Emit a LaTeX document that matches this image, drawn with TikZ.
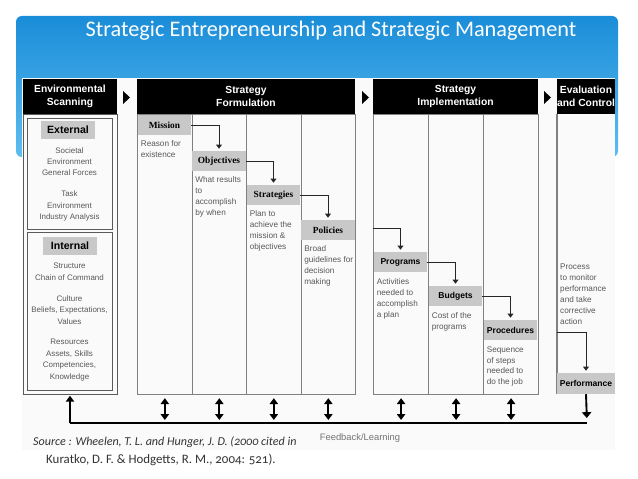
\documentclass[tikz,border=0pt]{standalone}
\usepackage{fontspec}
\setmainfont{Liberation Sans}
\newfontfamily\slidefont{Carlito}
\newfontfamily\srcfont[Numbers=OldStyle]{Carlito}
\newfontfamily\labserif{Liberation Serif}
\usetikzlibrary{arrows.meta}

\definecolor{slidetop}{HTML}{1A8DD8}
\definecolor{slidebot}{HTML}{5DBDF0}
\definecolor{labgray}{HTML}{C8C8C8}
\definecolor{colgray}{HTML}{808080}
\definecolor{txtgray}{HTML}{585858}

\tikzset{
  head/.style={fill=black, text=white, inner sep=0, align=center,
    font=\bfseries\fontsize{8.8}{11}\selectfont},
  col/.style={draw=colgray, line width=1pt, anchor=north west, inner sep=0,
    minimum width=1.635cm, minimum height=8.4cm},
  lab/.style={fill=labgray, inner sep=0, minimum width=1.6cm, minimum height=0.6cm,
    font=\bfseries\fontsize{7.3}{9}\selectfont},
  labs/.style={lab, font=\labserif\bfseries\fontsize{8}{9}\selectfont},
  txt/.style={anchor=north west, inner sep=0, align=left, text=txtgray,
    font=\fontsize{7}{9.3}\selectfont},
  envtxt/.style={anchor=north, inner sep=0, align=center, text=txtgray,
    font=\fontsize{6.8}{9.8}\selectfont},
  envbox/.style={draw=colgray!70!black, line width=0.7pt, inner sep=0},
  link/.style={draw=black!85, line width=0.8pt, -{Triangle[width=5pt,length=3.5pt]},
    shorten >=0.06cm},
  fb/.style={draw=black, line width=1.6pt},
  dblarr/.style={fb, {Triangle[width=7pt,length=5pt]}-{Triangle[width=7pt,length=5pt]},
    shorten <=0.09cm, shorten >=0.09cm}
}

\begin{document}
\begin{tikzpicture}[x=0.03cm, y=-0.03cm]

\path [use as bounding box] (0,0) rectangle (638,479);

% SLIDE
\shade [top color=slidetop, bottom color=slidebot, rounded corners=5pt] (16,16) rectangle (618,157);
\node [text=white, font=\slidefont\fontsize{19}{21}\selectfont] (title) at (331,31)
  {Strategic Entrepreneurship and Strategic Management};
\fill [white!98!black] (22,78) rectangle (615,450);

% HEADERS
\node [head, minimum width=2.82cm, minimum height=1.05cm] (envh) at (70,96.5) {Environmental\\Scanning};
\node [head, minimum width=6.54cm, minimum height=1.05cm] (formh) at (246,96.5) {Strategy\\Formulation};
\node [head, minimum width=4.95cm, minimum height=1.05cm] (implh) at (455.5,96.5) {Strategy\\Implementation};
\node [head, minimum width=1.74cm, minimum height=1.05cm] (evalh) at (586,96.5) {Evaluation\\and Control};
\foreach \x in {123,362,544}
  \fill (\x,91) -- +(7,6.5) -- +(0,13) -- cycle;

% ENVIRONMENTAL SCANNING
\node [envbox, minimum width=2.82cm, minimum height=8.4cm] (envbox) at (70,254) {};
\node [envbox, minimum width=2.55cm, minimum height=3.33cm] (extbox) at (69.5,173.5) {};
\node [envbox, minimum width=2.55cm, minimum height=4.74cm] (intbox) at (69.5,311) {};
\node [lab, minimum width=1.59cm, minimum height=0.51cm, font=\bfseries\fontsize{9}{10}\selectfont] (external) at (68,130) {External};
\node [lab, minimum width=1.62cm, minimum height=0.54cm, font=\bfseries\fontsize{9}{10}\selectfont] (internal) at (70,246) {Internal};
\node [envtxt] (exttxt) at (69.5,147) {Societal\\Environment\\General Forces\\[8pt]Task\\Environment\\Industry Analysis};
\node [envtxt] (inttxt) at (69.5,263) {Structure\\Chain of Command\\[8pt]Culture\\Beliefs, Expectations,\\Values\\[8pt]Resources\\Assets, Skills\\Competencies,\\Knowledge};

% FORMULATION
\node [col] (f1) at (137,114) {};
\node [col] (f2) at (191.5,114) {};
\node [col] (f3) at (246,114) {};
\node [col] (f4) at (300.5,114) {};
\node [labs] (mission) at (164.5,125) {Mission};
\node [labs] (objectives) at (219,161) {Objectives};
\node [labs] (strategies) at (273.5,195) {Strategies};
\node [labs] (policies) at (328,230) {Policies};
\node [txt] (missiontxt) at ([shift={(3,5)}]mission.south west) {Reason for\\existence};
\node [txt] (objtxt) at ([shift={(3,5)}]objectives.south west) {What results\\to\\accomplish\\by when};
\node [txt] (strattxt) at ([shift={(3,5)}]strategies.south west) {Plan to\\achieve the\\mission \&\\objectives};
\node [txt] (poltxt) at ([shift={(3,5)}]policies.south west) {Broad\\guidelines for\\decision\\making};
\draw [link] (mission.east) -| (objectives.north);
\draw [link] (objectives.east) -| (strategies.north);
\draw [link] (strategies.east) -| (policies.north);

% IMPLEMENTATION
\node [col, minimum width=1.65cm] (i1) at (373,114) {};
\node [col, minimum width=1.65cm] (i2) at (428,114) {};
\node [col, minimum width=1.65cm] (i3) at (483,114) {};
\node [lab] (programs) at (400.5,262) {Programs};
\node [lab] (budgets) at (455.5,296) {Budgets};
\node [lab] (procedures) at (510.5,330) {Procedures};
\node [txt] (progtxt) at ([shift={(3,6)}]programs.south west) {Activities\\needed to\\accomplish\\a plan};
\node [txt] (budtxt) at ([shift={(3,6)}]budgets.south west) {Cost of the\\programs};
\node [txt] (proctxt) at ([shift={(3,6)}]procedures.south west) {Sequence\\of steps\\needed to\\do the job};
\coordinate (implin) at (373,228);
\draw [link] (implin) -| (programs.north);
\draw [link] (programs.east) -| (budgets.north);
\draw [link] (budgets.east) -| (procedures.north);

% EVALUATION
\draw [draw=colgray, line width=1pt] (557,114) -- (557,394);
\node [lab, minimum width=1.74cm, minimum height=0.63cm] (performance) at (586,383.5) {Performance};
\node [txt] (evaltxt) at (560,264) {Process\\to monitor\\performance\\and take\\corrective\\action};
\coordinate (evalin) at (557,332);
\draw [link] (evalin) -| (performance.north);

% FEEDBACK
\coordinate (fbL) at (70,423);
\coordinate (fbR) at (587,423);
\draw [fb] (fbR) -- (fbL);
\draw [fb, -{Triangle[width=7pt,length=5pt]}, shorten >=0.04cm] (fbL) -- (envbox.south);
\draw [fb, -{Triangle[width=8pt,length=5pt]}, shorten >=0.15cm] (performance.south) -- (fbR);
\foreach \c in {f1,f2,f3,f4,i1,i2,i3}
  \draw [dblarr] (\c.south) -- (\c.south |- fbL);
\node [text=black!55, font=\fontsize{8}{10}\selectfont] (fbtxt) at (360,438) {Feedback/Learning};

% SOURCE
\node [anchor=west, inner sep=0, text=black!80, font=\srcfont\itshape\fontsize{10.3}{12}\selectfont] (src1) at (33,442)
  {Source : Wheelen, T. L. and Hunger, J. D. (2000 cited in};
\node [anchor=west, inner sep=0, text=black!80, font=\srcfont\fontsize{11}{12}\selectfont] (src2) at (46,460)
  {Kuratko, D. F. \& Hodgetts, R. M., 2004: 521).};

\end{tikzpicture}
\end{document}
